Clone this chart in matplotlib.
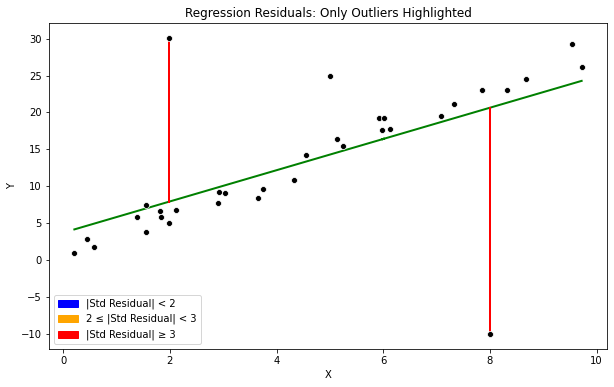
import numpy as np
import matplotlib
matplotlib.use("Agg")
import matplotlib.pyplot as plt
from matplotlib.patches import Patch

x = [0.21, 0.45, 0.58, 1.39, 1.56, 1.56, 1.82, 1.84, 1.99, 1.99, 2.12,
     2.91, 2.93, 3.04, 3.66, 3.75, 4.32, 4.56, 5.00, 5.14, 5.25, 5.93,
     6.02, 5.98, 6.13, 7.09, 7.33, 7.86, 8.00, 8.33, 8.67, 9.53, 9.72]
y = [0.95, 2.84, 1.76, 5.8, 7.43, 3.8, 6.6, 5.8, 30.1, 5.0, 6.76,
     7.7, 9.3, 9.05, 8.4, 9.6, 10.8, 14.2, 25.0, 16.35, 15.4, 19.3,
     19.3, 17.6, 17.7, 19.5, 21.1, 23.0, -10.0, 23.1, 24.5, 29.2, 26.2]

x = np.array(x)
y = np.array(y)
slope, intercept = np.polyfit(x, y, 1)
y_pred = slope * x + intercept
resid = y - y_pred
# standardized residuals using leave-one-out scale
std_resid = np.array([r / np.delete(resid, i).std() for i, r in enumerate(resid)])

fig = plt.figure(figsize=(614 / 72, 387 / 72), dpi=72)
ax = fig.add_axes([49 / 614, 1 - 349 / 387, (607 - 49) / 614, (349 - 23) / 387])

ax.scatter(x, y, s=36, color="black", edgecolor="white", linewidth=0.75, zorder=3)
ax.plot(x, y_pred, color="green", lw=2, zorder=2)
for xi, yi, pi, si in zip(x, y, y_pred, std_resid):
    if abs(si) >= 3:
        ax.plot([xi, xi], [yi, pi], color="red", lw=2, zorder=2)

handles = [Patch(color="blue", label="|Std Residual| < 2"),
           Patch(color="orange", label="2 ≤ |Std Residual| < 3"),
           Patch(color="red", label="|Std Residual| ≥ 3")]
ax.legend(handles=handles, loc="lower left")
ax.set_title("Regression Residuals: Only Outliers Highlighted")
ax.set_xlabel("X")
ax.set_ylabel("Y")

fig.savefig("out.png", dpi=72)
